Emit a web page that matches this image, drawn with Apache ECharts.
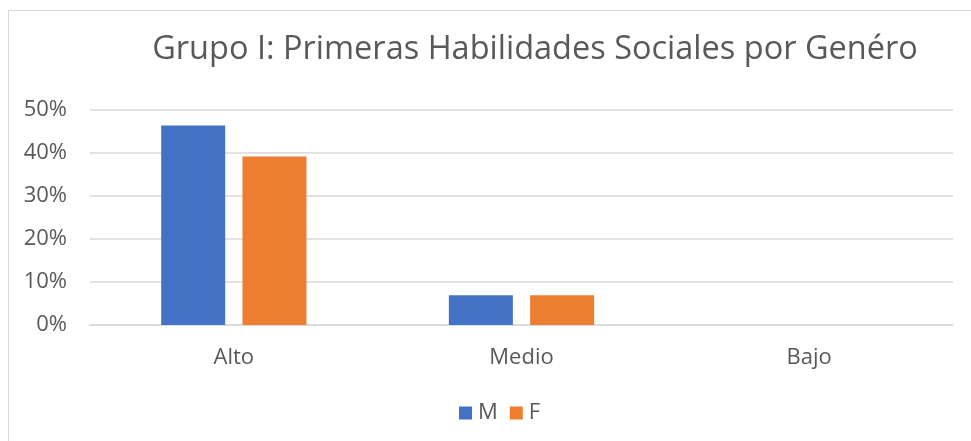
<html>
<head>
<meta charset="UTF-8">
<title>Grupo I</title>
<script src="https://cdn.jsdelivr.net/npm/echarts@6/dist/echarts.min.js"></script>
<style>
  body { margin: 0; background: #fff; }
  #frame { position: absolute; left: 8px; top: 10px; width: 980px; height: 440px;
           border-left: 1.5px solid #d9d9d9; border-top: 1.5px solid #d9d9d9; }
  #main { position: absolute; left: 0; top: 0; width: 971px; height: 441px; }
</style>
</head>
<body>
<div id="frame"></div>
<div id="main"></div>
<script>
var categories = ['Alto', 'Medio', 'Bajo'];
var valoresM = [0.464, 0.069, 0];
var valoresF = [0.392, 0.069, 0];
var yTicks = [0, 0.1, 0.2, 0.3, 0.4, 0.5];

var font = 'Open Sans';
var gris = '#595959';

var chart = echarts.init(document.getElementById('main'));
chart.setOption({
  animation: false,
  title: {
    text: 'Grupo I: Primeras Habilidades Sociales por Genéro',
    left: 530,
    top: 28,
    textAlign: 'center',
    textStyle: { fontFamily: font, fontSize: 32.5, fontWeight: 'normal', color: gris }
  },
  legend: {
    data: ['M', 'F'],
    left: 454,
    top: 397,
    icon: 'rect',
    itemWidth: 13,
    itemHeight: 13,
    itemGap: 12,
    textStyle: { fontFamily: font, fontSize: 22, color: gris, padding: [0, 0, 0, 1] }
  },
  grid: { left: 90, right: 18, top: 110, bottom: 116 },
  xAxis: {
    type: 'category',
    data: categories,
    axisLine: { lineStyle: { color: '#d9d9d9', width: 1.5 } },
    axisTick: { show: false },
    axisLabel: { fontFamily: font, fontSize: 22, color: gris, margin: 22 }
  },
  yAxis: {
    type: 'value',
    min: yTicks[0],
    max: yTicks[yTicks.length - 1],
    interval: 0.1,
    axisLine: { show: false },
    axisTick: { show: false },
    splitLine: { lineStyle: { color: '#d9d9d9', width: 1.5 } },
    axisLabel: {
      fontFamily: font, fontSize: 22, color: gris, margin: 23,
      formatter: function (v) { return Math.round(v * 100) + '%'; }
    }
  },
  series: [
    { name: 'M', type: 'bar', data: valoresM, barWidth: 64, barGap: '27%',
      itemStyle: { color: '#4472C4' } },
    { name: 'F', type: 'bar', data: valoresF, barWidth: 64, barGap: '27%',
      itemStyle: { color: '#ED7D31' } }
  ]
});
</script>
</body>
</html>
